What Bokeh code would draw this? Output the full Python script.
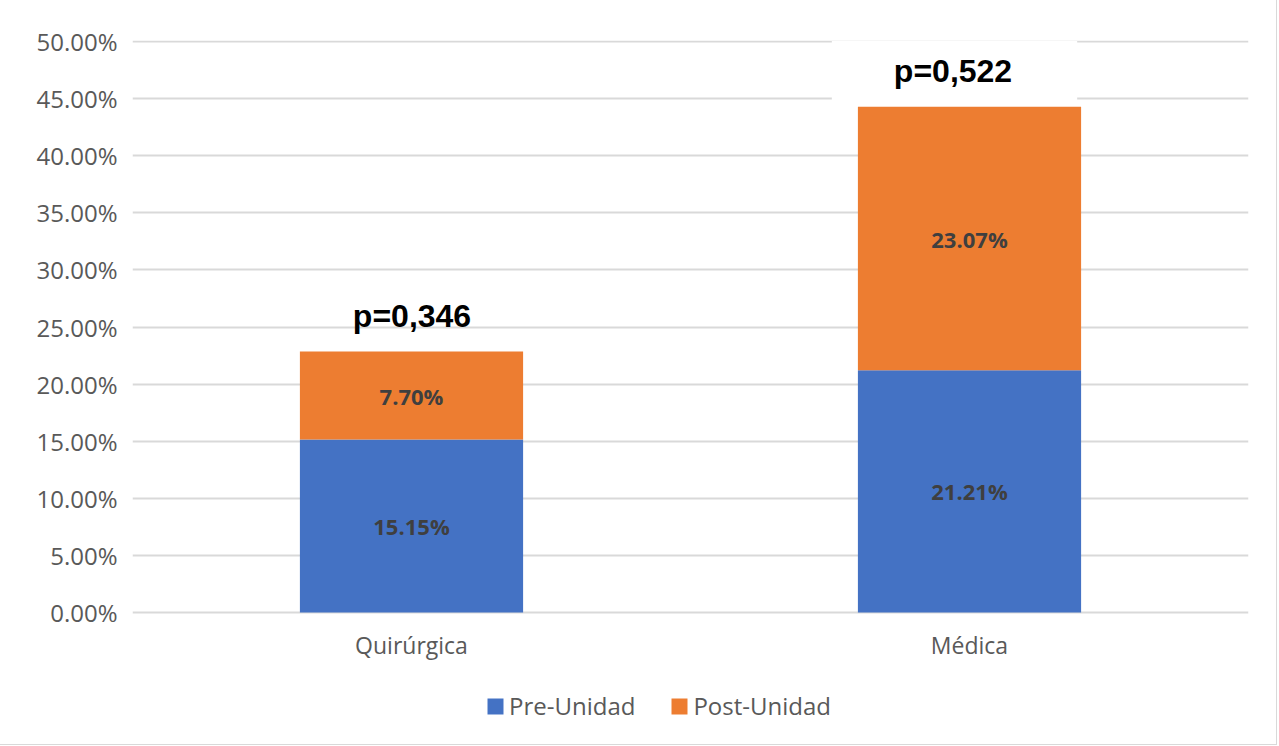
from bokeh.plotting import figure
from bokeh.models import ColumnDataSource, FixedTicker, PrintfTickFormatter, Legend, LegendItem, Range1d
from bokeh.core.properties import value
from bokeh.embed import file_html
from bokeh.resources import INLINE

categories = ["Quirúrgica", "Médica"]
pre_unidad = [15.15, 21.21]
post_unidad = [7.70, 23.07]
p_labels = ["p=0,346", "p=0,522"]
y_ticks = [0, 5, 10, 15, 20, 25, 30, 35, 40, 45, 50]
series_names = ["Pre-Unidad", "Post-Unidad"]
colors = ["#4472C4", "#ED7D31"]

totals = [a + b for a, b in zip(pre_unidad, post_unidad)]
src = ColumnDataSource(dict(
    cat=categories,
    pre=pre_unidad,
    post=post_unidad,
    pre_mid=[a / 2 for a in pre_unidad],
    post_mid=[a + b / 2 for a, b in zip(pre_unidad, post_unidad)],
    pre_txt=[f"{v:.2f}%" for v in pre_unidad],
    post_txt=[f"{v:.2f}%" for v in post_unidad],
    ptop=[t + 3.15 for t in totals],
    ptxt=p_labels,
    pbg=[0.0, 1.0],
    pxo=[2, -15],
))

# frame spans 40..744 px; 0% at 612 px, 50% at 41 px
p = figure(x_range=categories, y_range=Range1d(-11.56, 50.09), width=1276, height=744,
           output_backend="svg", toolbar_location=None,
           min_border_left=132, min_border_right=28, min_border_top=40, min_border_bottom=0)
p.outline_line_color = None
p.styles = {"outline": "1px solid #d9d9d9"}

r = p.vbar_stack(["pre", "post"], x="cat", width=0.4, source=src, color=colors, line_color=None)

for col, yc in (("pre_txt", "pre_mid"), ("post_txt", "post_mid")):
    p.text(x="cat", y=yc, text=col, source=src, text_align="center", text_baseline="middle",
           text_font=value("Open Sans"), text_font_style="bold", text_font_size="22px",
           text_color="#3f3f3f")

p.text(x="cat", y="ptop", text="ptxt", source=src, x_offset="pxo", y_offset=2,
       text_align="center", text_baseline="middle", text_font=value("Liberation Sans"),
       text_font_style="bold", text_font_size="32px", text_color="#000000",
       background_fill_color="#ffffff", background_fill_alpha="pbg",
       padding={"left": 62, "right": 65, "top": 12, "bottom": 16})

p.yaxis.ticker = FixedTicker(ticks=y_ticks)
p.yaxis.formatter = PrintfTickFormatter(format="%.2f%%")
for ax in (p.xaxis, p.yaxis):
    ax.axis_line_color = None
    ax.major_tick_line_color = None
    ax.minor_tick_line_color = None
    ax.major_label_text_font = "Open Sans"
    ax.major_label_text_color = "#595959"
p.yaxis.major_label_text_font_size = "24px"
p.xaxis.major_label_text_font_size = "23px"
p.yaxis.major_label_standoff = 9
p.xaxis.major_label_standoff = 11
p.xaxis.fixed_location = 0

p.xgrid.grid_line_color = None
p.ygrid.ticker = FixedTicker(ticks=y_ticks)
p.ygrid.grid_line_color = "#d9d9d9"
p.ygrid.grid_line_width = 2

legend = Legend(items=[LegendItem(label=series_names[i], renderers=[r[i]]) for i in range(2)],
                orientation="horizontal", location=(353, 22), padding=0, margin=0,
                spacing=34, glyph_width=20, glyph_height=20, label_standoff=4,
                label_text_font="Open Sans", label_text_font_size="24px",
                label_text_color="#595959", border_line_color=None, background_fill_alpha=0)
p.add_layout(legend, "center")

open("out.html", "w").write(file_html(p, INLINE))
